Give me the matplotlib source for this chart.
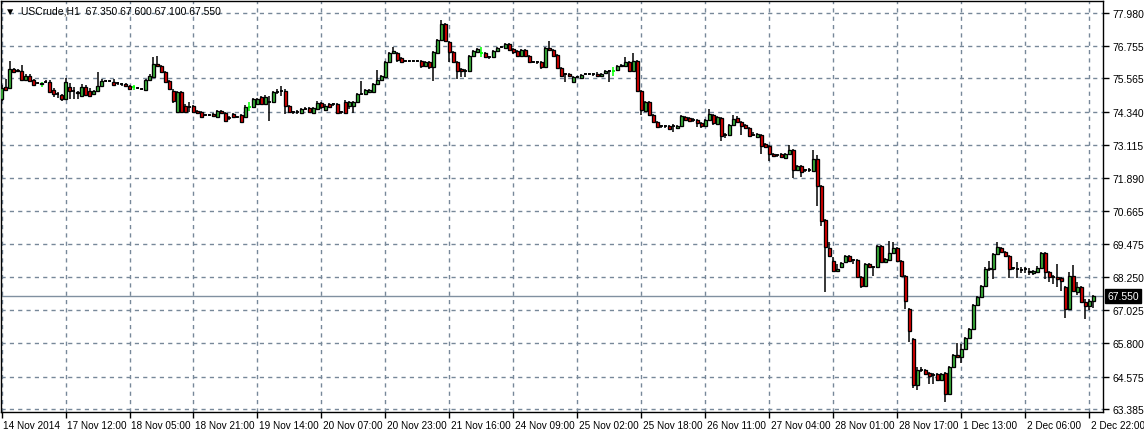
import matplotlib.pyplot as plt
import matplotlib.transforms as mtransforms

plt.rcParams['font.family'] = ['Liberation Sans', 'DejaVu Sans']

# USCrude H1 bars, 14 Nov 2014 .. 2 Dec 2014
opens = [74.81, 75.25, 75.22, 75.92, 75.88, 75.84, 75.51, 75.66, 75.51, 75.40,
         75.36, 75.44, 75.44, 75.14, 74.99, 74.96, 74.81, 75.25, 75.11, 75.07,
         74.92, 75.25, 75.11, 74.99, 75.11, 75.29, 75.47, 75.47, 75.44, 75.40,
         75.36, 75.36, 75.29, 75.25, 75.22, 75.18, 75.14, 75.51, 75.62, 76.10,
         76.03, 75.81, 75.47, 75.11, 74.33, 75.07, 74.55, 74.52, 74.55, 74.37,
         74.33, 74.22, 74.22, 74.26, 74.15, 74.37, 74.29, 74.11, 74.26, 74.15,
         74.22, 74.15, 74.52, 74.52, 74.63, 74.88, 74.63, 74.70, 74.70, 75.07,
         75.11, 75.11, 74.55, 74.33, 74.33, 74.29, 74.44, 74.48, 74.29, 74.44,
         74.66, 74.41, 74.63, 74.63, 74.63, 74.33, 74.70, 74.55, 74.55, 74.70,
         74.99, 74.99, 75.07, 75.07, 75.36, 75.51, 75.62, 76.17, 76.51, 76.51,
         76.32, 76.21, 76.21, 76.21, 76.21, 76.21, 76.03, 76.17, 75.99, 76.51,
         76.99, 77.57, 76.91, 76.54, 76.17, 75.92, 75.84, 75.84, 76.40, 76.54,
         76.51, 76.51, 76.36, 76.36, 76.58, 76.73, 76.69, 76.84, 76.65, 76.58,
         76.40, 76.62, 76.40, 76.17, 76.17, 76.17, 75.99, 76.69, 76.62, 76.44,
         75.95, 75.73, 75.73, 75.44, 75.62, 75.58, 75.73, 75.73, 75.73, 75.73,
         75.66, 75.77, 75.84, 75.84, 75.88, 76.03, 76.03, 76.17, 75.84, 76.21,
         75.11, 74.37, 74.70, 74.22, 73.96, 73.81, 73.81, 73.81, 73.81, 73.74,
         73.81, 74.15, 74.11, 74.04, 74.04, 73.93, 73.81, 74.04, 74.22, 73.89,
         74.11, 73.48, 73.48, 73.85, 74.11, 73.96, 73.85, 73.74, 73.48, 73.41,
         73.48, 73.15, 73.08, 72.78, 72.75, 72.78, 72.64, 72.78, 72.93, 72.20,
         72.34, 72.20, 72.20, 72.16, 72.60, 71.60, 70.35, 69.32, 68.84, 68.47,
         68.62, 68.80, 69.03, 68.88, 68.88, 68.25, 67.92, 68.73, 68.62, 68.62,
         69.39, 68.80, 68.88, 69.14, 69.32, 68.84, 68.29, 67.07, 65.97, 64.27,
         64.82, 64.82, 64.71, 64.64, 64.68, 64.45, 64.71, 63.94, 64.93, 65.38,
         65.30, 65.60, 66.00, 66.33, 67.22, 67.51, 67.92, 68.54, 68.54, 69.10,
         69.32, 69.17, 69.03, 68.58, 68.54, 68.51, 68.54, 68.47, 68.40, 68.43,
         68.58, 69.14, 68.43, 68.25, 68.25, 68.21, 67.88, 67.07, 68.29, 67.70,
         67.88, 67.33, 67.18, 67.35]
highs = [75.33, 75.55, 76.21, 75.95, 75.92, 76.06, 75.73, 75.73, 75.55, 75.44,
         75.44, 75.51, 75.51, 75.22, 75.07, 74.99, 75.58, 75.40, 75.25, 75.11,
         75.36, 75.33, 75.22, 75.14, 75.81, 75.55, 75.51, 75.51, 75.55, 75.44,
         75.40, 75.40, 75.33, 75.33, 75.25, 75.22, 75.55, 75.73, 76.36, 76.40,
         76.06, 75.84, 75.51, 75.18, 75.11, 75.11, 74.63, 74.70, 74.59, 74.41,
         74.37, 74.26, 74.26, 74.29, 74.41, 74.41, 74.33, 74.18, 74.29, 74.18,
         74.26, 74.59, 74.70, 74.85, 74.85, 74.92, 74.96, 74.92, 75.11, 75.18,
         75.29, 75.18, 74.59, 74.37, 74.41, 74.48, 74.52, 74.52, 74.52, 74.74,
         74.70, 74.63, 74.66, 74.66, 74.66, 74.37, 74.77, 74.74, 74.74, 75.03,
         75.47, 75.18, 75.18, 75.40, 75.88, 75.70, 76.21, 76.54, 76.73, 76.54,
         76.36, 76.25, 76.25, 76.25, 76.25, 76.25, 76.21, 76.21, 76.58, 77.02,
         77.72, 77.61, 76.95, 76.58, 76.21, 75.95, 75.92, 76.44, 76.62, 76.69,
         76.73, 76.54, 76.40, 76.62, 76.73, 76.76, 76.87, 76.87, 76.69, 76.62,
         76.65, 76.65, 76.44, 76.21, 76.21, 76.21, 76.73, 76.95, 76.65, 76.47,
         75.99, 75.77, 75.77, 75.66, 75.66, 75.73, 75.77, 75.77, 75.77, 75.81,
         75.77, 75.88, 75.88, 75.99, 76.06, 76.10, 76.36, 76.21, 76.51, 76.25,
         75.14, 74.74, 74.74, 74.26, 74.00, 73.85, 73.85, 73.85, 73.89, 73.85,
         74.22, 74.18, 74.15, 74.11, 74.07, 73.96, 74.07, 74.44, 74.26, 74.18,
         74.15, 73.56, 73.89, 74.22, 74.18, 74.00, 73.89, 73.78, 73.59, 73.56,
         73.52, 73.19, 73.11, 72.82, 72.78, 72.82, 72.82, 73.11, 72.97, 72.38,
         72.38, 72.23, 72.27, 72.93, 72.75, 71.64, 70.39, 69.54, 68.99, 68.73,
         68.80, 69.06, 69.06, 68.91, 68.91, 68.29, 68.77, 68.77, 68.66, 69.43,
         69.43, 68.95, 69.58, 69.54, 69.36, 68.88, 68.32, 67.11, 66.00, 64.93,
         64.93, 64.86, 64.75, 64.71, 64.71, 64.71, 64.75, 64.97, 65.41, 65.82,
         65.78, 66.04, 66.37, 67.26, 67.55, 67.96, 68.62, 68.84, 69.14, 69.54,
         69.36, 69.21, 69.06, 68.62, 68.80, 68.62, 68.62, 68.58, 68.51, 68.66,
         69.17, 69.17, 68.47, 68.32, 68.73, 68.25, 67.92, 68.43, 68.69, 68.07,
         67.92, 67.44, 67.44, 67.60]
lows = [74.74, 75.11, 75.18, 75.77, 75.81, 75.47, 75.47, 75.44, 75.29, 75.36,
        75.25, 75.40, 75.03, 74.88, 74.85, 74.74, 74.77, 74.81, 74.81, 74.81,
        74.88, 74.92, 74.88, 74.96, 75.07, 75.25, 75.44, 75.44, 75.29, 75.33,
        75.29, 75.25, 75.14, 75.14, 75.18, 75.14, 75.11, 75.47, 75.58, 75.99,
        75.77, 75.40, 75.14, 74.66, 74.29, 74.29, 74.29, 74.33, 74.29, 74.26,
        74.11, 74.18, 74.18, 74.15, 74.11, 74.26, 73.96, 74.04, 74.11, 74.11,
        73.93, 74.11, 74.37, 74.48, 74.59, 74.59, 74.59, 74.00, 74.66, 74.99,
        74.92, 74.26, 74.29, 74.26, 74.26, 74.26, 74.41, 74.29, 74.26, 74.41,
        74.44, 74.37, 74.48, 74.55, 74.26, 74.26, 74.26, 74.44, 74.29, 74.66,
        74.96, 74.96, 75.03, 75.03, 75.33, 75.47, 75.58, 76.14, 76.47, 76.17,
        76.14, 76.17, 76.17, 76.17, 76.17, 75.95, 75.99, 75.92, 75.47, 76.47,
        76.95, 76.91, 76.17, 76.14, 75.55, 75.62, 75.62, 75.81, 76.36, 76.51,
        76.36, 76.32, 76.28, 76.32, 76.54, 76.69, 76.65, 76.58, 76.47, 76.36,
        76.36, 76.36, 76.14, 76.14, 76.10, 75.92, 75.95, 76.58, 76.36, 75.92,
        75.62, 75.44, 75.62, 75.40, 75.58, 75.55, 75.70, 75.70, 75.66, 75.62,
        75.62, 75.73, 75.44, 75.66, 75.84, 75.99, 75.99, 75.81, 75.81, 75.07,
        74.22, 74.33, 74.18, 73.93, 73.74, 73.74, 73.74, 73.67, 73.59, 73.70,
        73.78, 74.00, 73.96, 73.96, 73.78, 73.74, 73.78, 74.00, 73.85, 73.85,
        73.26, 73.37, 73.45, 73.81, 73.93, 73.48, 73.70, 73.41, 73.45, 73.37,
        72.78, 73.00, 72.53, 72.67, 72.67, 72.64, 72.60, 72.75, 71.90, 72.16,
        71.94, 72.12, 72.12, 72.12, 70.87, 70.13, 67.70, 68.99, 68.43, 68.43,
        68.58, 68.77, 68.80, 68.73, 68.21, 67.84, 67.88, 68.58, 68.29, 68.58,
        68.77, 68.77, 68.84, 69.10, 68.80, 68.25, 67.07, 65.85, 64.16, 64.09,
        64.75, 64.64, 64.31, 64.31, 64.42, 64.42, 63.64, 63.90, 64.90, 65.26,
        65.08, 65.56, 65.97, 66.30, 67.18, 67.48, 67.88, 68.47, 68.18, 69.06,
        69.14, 68.99, 68.21, 68.51, 68.21, 68.40, 68.40, 68.32, 68.32, 68.40,
        68.54, 68.18, 68.07, 67.99, 67.88, 67.73, 66.74, 67.03, 67.70, 67.59,
        67.29, 66.70, 67.03, 67.10]
closes = [75.22, 75.14, 75.92, 75.81, 75.84, 75.51, 75.66, 75.47, 75.33, 75.40,
          75.40, 75.44, 75.07, 74.99, 74.99, 74.81, 75.44, 75.11, 75.11, 75.03,
          75.25, 74.96, 74.92, 75.11, 75.29, 75.47, 75.47, 75.47, 75.33, 75.40,
          75.36, 75.29, 75.18, 75.25, 75.22, 75.18, 75.51, 75.66, 76.10, 76.03,
          75.81, 75.44, 75.18, 74.74, 75.07, 74.33, 74.33, 74.52, 74.33, 74.29,
          74.15, 74.22, 74.22, 74.18, 74.37, 74.29, 74.00, 74.11, 74.15, 74.15,
          73.96, 74.52, 74.52, 74.81, 74.81, 74.63, 74.88, 74.70, 75.07, 75.07,
          75.11, 74.55, 74.33, 74.33, 74.33, 74.44, 74.44, 74.33, 74.48, 74.66,
          74.52, 74.55, 74.52, 74.63, 74.29, 74.33, 74.29, 74.70, 74.70, 74.99,
          74.99, 75.14, 75.14, 75.36, 75.51, 75.66, 76.17, 76.51, 76.58, 76.25,
          76.17, 76.21, 76.21, 76.21, 76.21, 76.03, 76.17, 75.99, 76.54, 76.99,
          77.57, 76.95, 76.54, 76.17, 75.84, 75.84, 75.84, 76.40, 76.58, 76.65,
          76.51, 76.36, 76.36, 76.58, 76.69, 76.73, 76.84, 76.62, 76.54, 76.40,
          76.62, 76.40, 76.17, 76.17, 76.17, 75.99, 76.69, 76.62, 76.40, 75.95,
          75.66, 75.73, 75.66, 75.62, 75.62, 75.70, 75.73, 75.73, 75.73, 75.66,
          75.73, 75.84, 75.84, 75.84, 76.03, 76.06, 76.17, 75.84, 76.21, 75.11,
          74.41, 74.70, 74.22, 73.96, 73.78, 73.81, 73.81, 73.70, 73.81, 73.81,
          74.18, 74.04, 74.00, 74.04, 73.93, 73.81, 74.04, 74.26, 73.93, 74.15,
          73.45, 73.48, 73.85, 74.07, 73.96, 73.81, 73.74, 73.45, 73.48, 73.52,
          73.08, 73.04, 72.78, 72.71, 72.75, 72.67, 72.78, 72.93, 72.20, 72.34,
          72.12, 72.20, 72.20, 72.60, 71.60, 70.31, 69.36, 69.03, 68.47, 68.54,
          68.77, 69.03, 68.84, 68.88, 68.25, 67.92, 68.73, 68.62, 68.62, 69.39,
          68.80, 68.91, 69.14, 69.32, 68.84, 68.29, 67.37, 66.26, 64.27, 64.82,
          64.82, 64.68, 64.60, 64.64, 64.45, 64.68, 63.94, 64.93, 65.38, 65.30,
          65.60, 66.00, 66.33, 67.22, 67.51, 67.92, 68.54, 68.58, 69.10, 69.36,
          69.17, 69.03, 68.54, 68.58, 68.54, 68.51, 68.54, 68.43, 68.47, 68.58,
          69.14, 68.43, 68.25, 68.25, 68.18, 68.10, 67.07, 68.29, 67.73, 67.88,
          67.33, 67.18, 67.37, 67.55]

# doji bars that MT4 drew in the bright "bar up" colour
lime_bars = [10, 33, 62, 120, 153]

time_labels = ['14 Nov 2014', '17 Nov 12:00', '18 Nov 05:00', '18 Nov 21:00',
               '19 Nov 14:00', '20 Nov 07:00', '20 Nov 23:00', '21 Nov 16:00',
               '24 Nov 09:00', '25 Nov 02:00', '25 Nov 18:00', '26 Nov 11:00',
               '27 Nov 04:00', '28 Nov 01:00', '28 Nov 17:00', '1 Dec 13:00',
               '2 Dec 06:00', '2 Dec 22:00']
time_tick_bars = [0, 16, 32, 48, 64, 80, 96, 112, 128, 144, 160, 176, 192,
                  208, 224, 240, 256, 272]
price_ticks = [77.980, 76.755, 75.565, 74.340, 73.115, 71.890, 70.665,
               69.475, 68.250, 67.025, 65.800, 64.575, 63.385]
last_price = 67.550

grid_col = '#778899'
bull_col = '#3cb83c'
bear_col = '#e40000'

fig = plt.figure(figsize=(11.44, 4.31), dpi=100)
ax = fig.add_axes([0.0005, 0.0418, 0.9637, 0.9536])

ax.grid(True, linestyle=(0, (3, 3)), color=grid_col, linewidth=1, zorder=0)
ax.axhline(last_price, color='#8090a0', linewidth=1, zorder=1)

w = 0.75
for i in range(len(closes)):
    o, h, l, c = opens[i], highs[i], lows[i], closes[i]
    wick_col = '#00ff00' if i in lime_bars else 'black'
    ax.vlines(i, l, h, color=wick_col, linewidth=1.1, zorder=2)
    if abs(c - o) < 0.03:
        ax.hlines((o + c) / 2, i - w / 2, i + w / 2, color=wick_col,
                  linewidth=1.3, zorder=3)
    else:
        ax.bar(i, abs(c - o), bottom=min(o, c), width=w,
               color=bull_col if c > o else bear_col,
               edgecolor='black', linewidth=0.95, zorder=3)

ax.set_xlim(-0.25, 275.5)
ax.set_ylim(63.27, 78.42)

ax.yaxis.tick_right()
ax.set_yticks(price_ticks)
ax.set_yticklabels(['%.3f' % p for p in price_ticks])
ax.set_xticks(time_tick_bars)
ax.set_xticklabels(time_labels, ha='left')
ax.tick_params(axis='both', direction='out', length=4, width=1,
               color='black', labelcolor='black', pad=2)
ax.tick_params(axis='x', labelsize=7.2)
ax.tick_params(axis='y', labelsize=7.5, pad=2.5)
shift = mtransforms.ScaledTranslation(1.2 / 72, 0, fig.dpi_scale_trans)
for lab in ax.get_xticklabels():
    lab.set_transform(lab.get_transform() + shift)
for sp in ax.spines.values():
    sp.set_color('black')
    sp.set_linewidth(1)

# current price tag on the price scale
tag_tr = mtransforms.blended_transform_factory(ax.transAxes, ax.transData)
ax.text(1.004, last_price, '%.3f' % last_price, transform=tag_tr,
        ha='left', va='center', fontsize=7.5, color='white', zorder=5,
        bbox=dict(facecolor='black', edgecolor='black', pad=1.4),
        clip_on=False)

ax.text(0.004, 0.988, '\u25bc  USCrude,H1  67.350 67.600 67.100 67.550',
        transform=ax.transAxes, ha='left', va='top', fontsize=7.5,
        color='black')

fig.savefig('out.png', dpi=100, facecolor='white')
